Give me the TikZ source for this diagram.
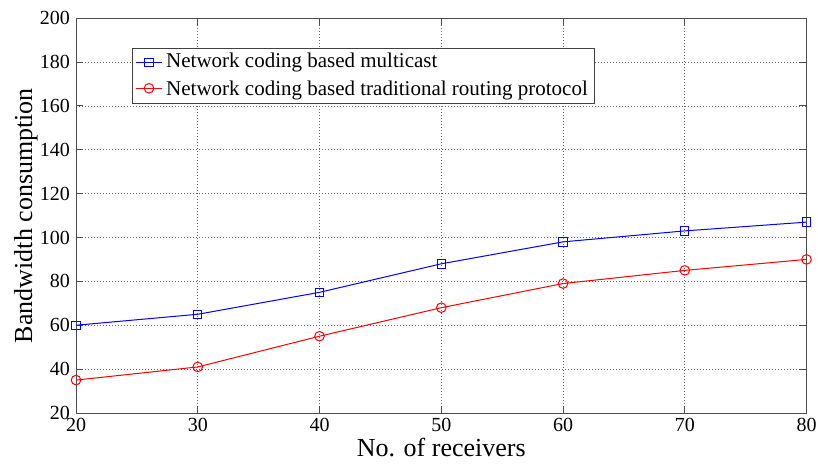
\documentclass[tikz,border=0pt]{standalone}
\usepackage{fontspec}
\setmainfont{Liberation Serif}
\usetikzlibrary{plotmarks}

\tikzset{
  gridline/.style={black!60, line width=0.6pt, dash pattern=on 1pt off 2pt},
  axisline/.style={black!70, line width=0.9pt},
  ticklabel/.style={font=\fontsize{20}{24}\selectfont, inner sep=0pt},
  axislabel/.style={font=\fontsize{26}{30}\selectfont, inner sep=0pt},
  legendtext/.style={font=\fontsize{21}{25}\selectfont, inner sep=0pt, anchor=base west},
  multicast/.style={blue, line width=1pt, mark=square, mark size=4.2pt},
  routing/.style={red, line width=1pt, mark=o, mark size=4.8pt}
}

\begin{document}
\begin{tikzpicture}[x=1pt,y=1pt]
  \useasboundingbox (0,0) rectangle (818,463);
  \begin{scope}[shift={(-167.5,6.12)}, x=12.175pt, y=2.194pt]
    % grid
    \foreach \gx in {30,40,...,70}
      \draw[gridline] (\gx,20) -- (\gx,200);
    \foreach \gy in {40,60,...,180}
      \draw[gridline] (20,\gy) -- (80,\gy);
    % ticks
    \foreach \gx in {20,30,...,80} {
      \draw[axisline] (\gx,20) -- ++(0,3.2);
      \draw[axisline] (\gx,200) -- ++(0,-3.2);
      \node[ticklabel, anchor=north] (xt\gx) at ([yshift=-5pt]\gx,20) {\gx};
    }
    \foreach \gy in {20,40,...,200} {
      \draw[axisline] (20,\gy) -- ++(0.58,0);
      \draw[axisline] (80,\gy) -- ++(-0.58,0);
      \node[ticklabel, anchor=east] (yt\gy) at ([xshift=-6pt]20,\gy) {\gy};
    }
    \draw[axisline] (20,20) rectangle (80,200);
    % data
    \draw[multicast] plot coordinates {(20,60) (30,65) (40,75) (50,88) (60,98) (70,103) (80,107)};
    \draw[routing] plot coordinates {(20,35) (30,41) (40,55) (50,68) (60,79) (70,85) (80,90)};
    % axis labels
    \node[axislabel, anchor=base] (xlabel) at (50,0) {No. of receivers};
    \node[axislabel, rotate=90, anchor=base] (ylabel) at ([xshift=-44pt]20,110) {Bandwidth consumption};
  \end{scope}
  % legend
  \node[draw=black!75, fill=white, line width=0.8pt, minimum width=462pt, minimum height=55pt, inner sep=0pt, anchor=north west] (legend) at (131.7,414.7) {};
  \coordinate (lm) at (149,400.7);
  \coordinate (lr) at (149,374.7);
  \draw[multicast, mark=none] ([xshift=-13.3pt]lm) -- ([xshift=13pt]lm);
  \draw[multicast] plot coordinates {(lm)};
  \draw[routing, mark=none] ([xshift=-13.3pt]lr) -- ([xshift=13pt]lr);
  \draw[routing] plot coordinates {(lr)};
  \node[legendtext] (lmulticast) at (166,395) {Network coding based multicast};
  \node[legendtext] (lrouting) at (166,367.5) {Network coding based traditional routing protocol};
\end{tikzpicture}
\end{document}
